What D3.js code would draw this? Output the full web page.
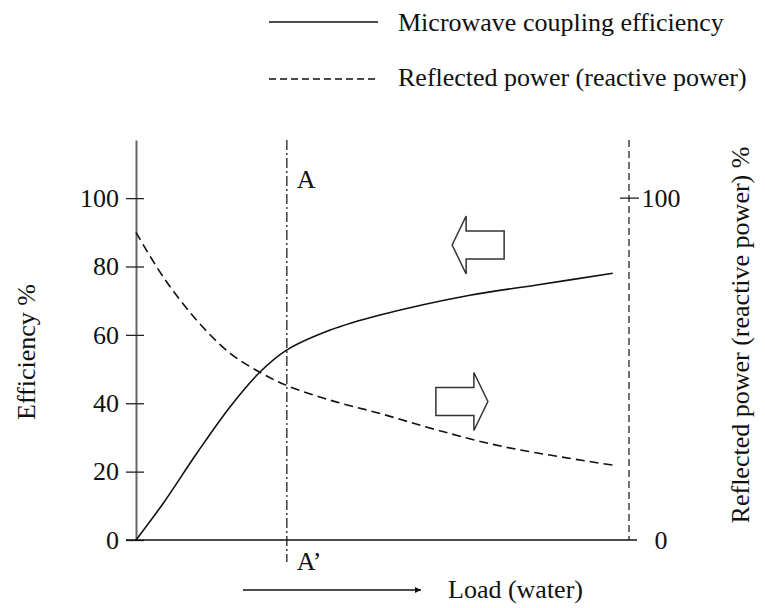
<!DOCTYPE html>
<html>
<head>
<meta charset="utf-8">
<script src="https://cdn.jsdelivr.net/npm/d3@7"></script>
<style>
  body { margin: 0; background: #fff; }
  svg text { font-family: "Liberation Serif", "Times New Roman", serif; fill: #111; font-variant-ligatures: none; }
</style>
</head>
<body>
<svg id="chart" width="765" height="608"></svg>
<script>
// Load (arbitrary units, 0..100 along the x axis)
const effLoad = [0, 5.5, 12.3, 19.1, 25.2, 30.4, 39.4, 49.5, 67.7, 81.3, 96.7];
const efficiency = [0, 10.7, 25.3, 39, 49.2, 55.4, 61.4, 65.8, 71.6, 74.6, 78];

const refLoad = [0, 5.5, 12.3, 19.1, 25.2, 30.4, 39.4, 49.5, 61, 74.5, 96.7];
const reflected = [90, 77, 64.3, 54.6, 49, 45.3, 40.9, 37, 32.2, 27.3, 21.9];

const leftTicks = [0, 20, 40, 60, 80, 100];
const rightTicks = [0, 100];
const markerLoad = 30.6; // line A-A'

const legendLabels = ["Microwave coupling efficiency", "Reflected power (reactive power)"];

const svg = d3.select("#chart");

// Scales
const x = d3.scaleLinear().domain([0, 100]).range([136, 629]);
const y = d3.scaleLinear().domain([0, 117]).range([540, 140]);

// Left axis
const leftAxis = svg.append("g")
  .attr("transform", `translate(${x(0)},0)`)
  .call(d3.axisLeft(y).tickValues(leftTicks).tickSizeInner(0).tickSizeOuter(0).tickPadding(17));
leftAxis.select(".domain").attr("stroke", "#666").attr("stroke-width", 2);
leftAxis.selectAll(".tick text").style("font-size", "26px").attr("fill", "#111")
  .style("font-family", "'Liberation Serif', serif");
leftAxis.selectAll(".tick").append("line")
  .attr("x1", -10).attr("x2", 8)
  .attr("stroke", "#222").attr("stroke-width", 1.3);

// X axis line
svg.append("line")
  .attr("x1", x(0) - 10).attr("x2", x(100) + 8)
  .attr("y1", y(0)).attr("y2", y(0))
  .attr("stroke", "#111").attr("stroke-width", 1.6);

// Right axis (dashed)
svg.append("line")
  .attr("x1", x(100)).attr("x2", x(100))
  .attr("y1", y(117)).attr("y2", y(0))
  .attr("stroke", "#111").attr("stroke-width", 1.2)
  .attr("stroke-dasharray", "7,4");
svg.append("line")
  .attr("x1", x(100) - 9).attr("x2", x(100) + 10)
  .attr("y1", y(100)).attr("y2", y(100))
  .attr("stroke", "#222").attr("stroke-width", 1.3);
svg.selectAll(".rtick")
  .data(rightTicks)
  .join("text")
  .attr("class", "rtick")
  .attr("x", x(100) + 32)
  .attr("y", d => y(d))
  .attr("dy", "0.34em")
  .attr("text-anchor", "middle")
  .style("font-size", "26px")
  .text(d => d);

// Marker line A - A'
svg.append("line")
  .attr("x1", x(markerLoad)).attr("x2", x(markerLoad))
  .attr("y1", y(117)).attr("y2", y(0) + 22)
  .attr("stroke", "#111").attr("stroke-width", 1.2)
  .attr("stroke-dasharray", "10,3,2,3");
svg.append("text")
  .attr("x", x(markerLoad) + 10).attr("y", 188)
  .style("font-size", "26px").text("A");
svg.append("text")
  .attr("x", x(markerLoad) + 10).attr("y", 570)
  .style("font-size", "26px").text("A\u2019");

// Curves
const line = d3.line().curve(d3.curveCatmullRom.alpha(0.5));
svg.append("path")
  .attr("d", line(effLoad.map((d, i) => [x(d), y(efficiency[i])])))
  .attr("fill", "none").attr("stroke", "#111").attr("stroke-width", 1.6);
svg.append("path")
  .attr("d", line(refLoad.map((d, i) => [x(d), y(reflected[i])])))
  .attr("fill", "none").attr("stroke", "#111").attr("stroke-width", 1.6)
  .attr("stroke-dasharray", "9,5");

// Hollow block arrows
function blockArrow(cx, cy, dir) {
  // pointing right by default, flipped for left
  const pts = [[-26, -14], [12, -14], [12, -29], [26, 0], [12, 29], [12, 14], [-26, 14]];
  return pts.map(p => [cx + dir * p[0], cy + p[1]].join(",")).join(" ");
}
svg.append("polygon")
  .attr("points", blockArrow(x(69.4), y(86.3), -1))
  .attr("fill", "#fff").attr("stroke", "#333").attr("stroke-width", 1.5);
svg.append("polygon")
  .attr("points", blockArrow(x(66.1), y(40.5), 1))
  .attr("fill", "#fff").attr("stroke", "#333").attr("stroke-width", 1.5);

// Axis titles
svg.append("text")
  .attr("transform", "translate(35,352) rotate(-90)")
  .attr("text-anchor", "middle")
  .style("font-size", "26px")
  .text("Efficiency %");
svg.append("text")
  .attr("transform", "translate(749,335) rotate(-90)")
  .attr("text-anchor", "middle")
  .style("font-size", "26px")
  .text("Reflected power (reactive power) %");

// Load arrow + label
svg.append("defs").append("marker")
  .attr("id", "head")
  .attr("viewBox", "0 0 10 10")
  .attr("refX", 10).attr("refY", 5)
  .attr("markerWidth", 8).attr("markerHeight", 6)
  .attr("markerUnits", "userSpaceOnUse")
  .attr("orient", "auto")
  .append("path").attr("d", "M0,0L10,5L0,10Z").attr("fill", "#111");
svg.append("line")
  .attr("x1", 243).attr("x2", 421)
  .attr("y1", 590).attr("y2", 590)
  .attr("stroke", "#111").attr("stroke-width", 1.4)
  .attr("marker-end", "url(#head)");
svg.append("text")
  .attr("x", 448).attr("y", 598)
  .style("font-size", "26px")
  .text("Load (water)");

// Legend
const legend = svg.append("g");
legendLabels.forEach((label, i) => {
  const ly = i === 0 ? 22 : 79;
  legend.append("line")
    .attr("x1", 269).attr("x2", 378)
    .attr("y1", ly).attr("y2", ly)
    .attr("stroke", "#111").attr("stroke-width", 1.4)
    .attr("stroke-dasharray", i === 0 ? null : "7,4");
  legend.append("text")
    .attr("x", 398).attr("y", i === 0 ? 31 : 86)
    .style("font-size", "26px")
    .text(label);
});
</script>
</body>
</html>
